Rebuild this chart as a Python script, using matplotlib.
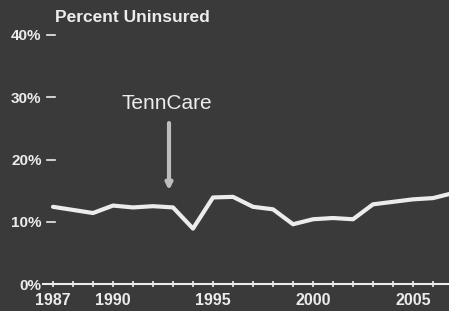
import matplotlib
matplotlib.use("Agg")
import matplotlib.pyplot as plt
import matplotlib.transforms as mtransforms

years = [1987, 1988, 1989, 1990, 1991, 1992, 1993, 1994, 1995, 1996, 1997,
         1998, 1999, 2000, 2001, 2002, 2003, 2004, 2005, 2006, 2007]
uninsured = [12.4, 11.9, 11.4, 12.6, 12.3, 12.5, 12.3, 8.9, 13.9, 14.0, 12.4,
             12.0, 9.6, 10.4, 10.6, 10.4, 12.8, 13.2, 13.6, 13.8, 14.6]
ytick_vals = [0, 10, 20, 30, 40]
ytick_labels = ["0%", "10%", "20%", "30%", "40%"]
xtick_vals = [1987, 1990, 1995, 2000, 2005]
xtick_labels = ["1987", "1990", "1995", "2000", "2005"]
title = "Percent Uninsured"
annot = "TennCare"
annot_year = 1992.8

bg = "#3a3a3a"
fg = "#ececec"
plt.rcParams['font.family'] = ['Liberation Sans', 'DejaVu Sans']

fig = plt.figure(figsize=(4.49, 3.11), dpi=100, facecolor=bg)
ax = fig.add_axes([43 / 449, 27 / 311, 406 / 449, 249 / 311], facecolor=bg)
ax.plot(years, uninsured, color=fg, lw=3, solid_joinstyle='round', solid_capstyle='round')
ax.set_xlim(1986.5, 2006.8)
ax.set_ylim(0, 40)

for s in ['top', 'right', 'left']:
    ax.spines[s].set_visible(False)
ax.spines['bottom'].set_color(fg)
ax.spines['bottom'].set_linewidth(1.5)

ax.set_yticks(ytick_vals)
ax.set_yticklabels(ytick_labels, fontsize=11, fontweight='bold', color=fg)
ax.tick_params(axis='y', length=0, pad=1)
for lab in ax.get_yticklabels():
    lab.set_clip_on(False)
trans = mtransforms.blended_transform_factory(ax.transAxes, ax.transData)
for v in ytick_vals[1:]:
    ax.plot([4 / 406, 12 / 406], [v, v], color=fg, lw=1.2, transform=trans, clip_on=False)

ax.set_xticks(xtick_vals)
ax.set_xticklabels(xtick_labels, fontsize=11.5, fontweight='bold', color=fg)
ax.set_xticks(list(range(1987, 2007)), minor=True)
ax.tick_params(axis='x', which='both', direction='inout', length=5, width=1.2, color=fg, pad=4)

fig.text(55 / 449, 1 - 22 / 311, title, fontsize=12.5, fontweight='bold', color=fg, ha='left', va='baseline')

ax.annotate("", xy=(annot_year, 14.6), xytext=(annot_year, 26.3),
            arrowprops=dict(arrowstyle='-|>', color='#bdbdbd', lw=3, mutation_scale=9))
ax.text(annot_year - 0.1, 28.1, annot, fontsize=15, color=fg, ha='center', va='baseline')

fig.savefig("out.png", dpi=100, facecolor=bg)
